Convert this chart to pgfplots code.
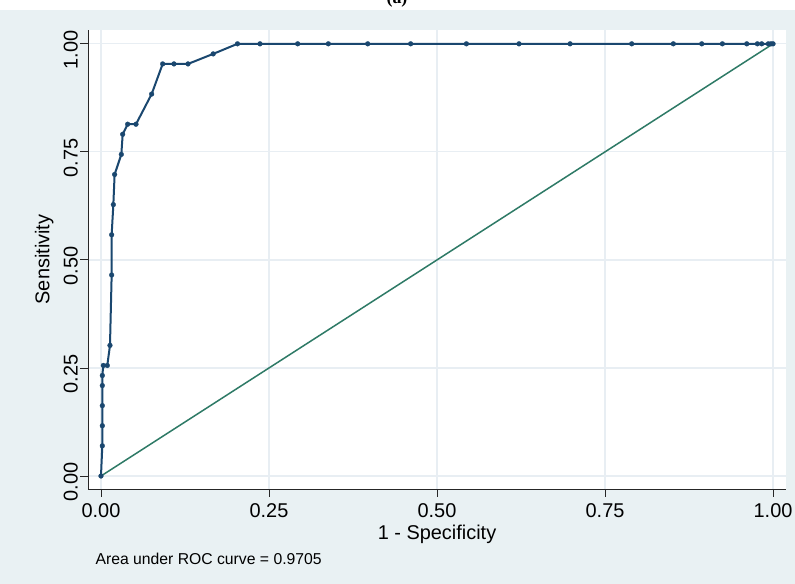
\documentclass[border=0pt]{standalone}
\usepackage{fontspec}
\setmainfont{Liberation Sans}
\newfontfamily\serifbf{Liberation Serif}
\usepackage{pgfplots}
\pgfplotsset{compat=1.18}
\definecolor{bgc}{RGB}{233,241,243}
\definecolor{gridc}{RGB}{232,238,243}
\definecolor{rocnavy}{RGB}{26,71,111}
\definecolor{refgreen}{RGB}{46,122,102}
\begin{document}
\begin{tikzpicture}[x=1bp,y=1bp]
  \clip (0,0) rectangle (795,584);
  \fill[white] (0,0) rectangle (795,584);
  \fill[bgc] (0,0) rectangle (795,574);
  \node[font=\serifbf\bfseries\fontsize{18}{20}\selectfont, anchor=base] at (397,580) {(a)};
  \begin{axis}[
      at={(88bp,95bp)}, anchor=south west, scale only axis,
      width=698bp, height=459bp,
      xmin=-0.0193, xmax=1.0193, ymin=-0.030, ymax=1.032,
      axis lines*=left,
      axis line style={black!85, line width=0.9bp},
      axis background/.style={fill=white},
      xtick={0,0.25,0.5,0.75,1}, ytick={0,0.25,0.5,0.75,1},
      tick align=outside, major tick length=8bp,
      tick style={black!85, line width=0.9bp},
      grid=major, major grid style={gridc, line width=1.2bp},
      /pgf/number format/.cd, fixed, fixed zerofill, precision=2, assume math mode=true,
      /pgfplots/.cd,
      ticklabel style={font=\fontsize{20}{24}\selectfont},
      xticklabel style={inner sep=2bp, yshift=-4bp},
      yticklabel style={rotate=90, anchor=south, inner sep=2bp, xshift=-6bp},
      label style={font=\fontsize{20}{24}\selectfont},
      xlabel={1 - Specificity}, ylabel={Sensitivity},
      xlabel style={inner sep=2bp, yshift=-4bp},
      ylabel style={inner sep=2bp, yshift=6bp},
      clip=false,
    ]
    \addplot[refgreen, line width=1.5bp] coordinates {(0,0) (1,1)};
    \addplot[rocnavy, line width=2bp, mark=*, mark size=2.4bp, mark options={fill=rocnavy, draw=rocnavy, line width=0.3bp}] coordinates {
      (0,0) (0.002,0.0698) (0.002,0.1163) (0.002,0.1628) (0.002,0.2093)
      (0.002,0.2326) (0.0035,0.2558) (0.0094,0.2558) (0.0134,0.3023)
      (0.0159,0.4651) (0.0159,0.5581) (0.0184,0.6279) (0.0203,0.6977)
      (0.0303,0.7442) (0.0323,0.7907) (0.0397,0.8140) (0.0521,0.8140)
      (0.0754,0.8837) (0.0918,0.9535) (0.1086,0.9535) (0.1295,0.9535)
      (0.1670,0.9767) (0.2031,1) (0.2366,1) (0.2927,1) (0.3383,1)
      (0.3969,1) (0.4608,1) (0.5437,1) (0.6220,1) (0.6980,1) (0.7897,1)
      (0.8516,1) (0.8939,1) (0.9246,1) (0.9609,1) (0.9767,1) (0.9831,1)
      (0.9930,1) (0.9970,1) (1,1)
    };
  \end{axis}
  \node[anchor=base west, font=\fontsize{15.8}{18}\selectfont] at (92,19) {Area under ROC curve = 0.9705};
\end{tikzpicture}
\end{document}
